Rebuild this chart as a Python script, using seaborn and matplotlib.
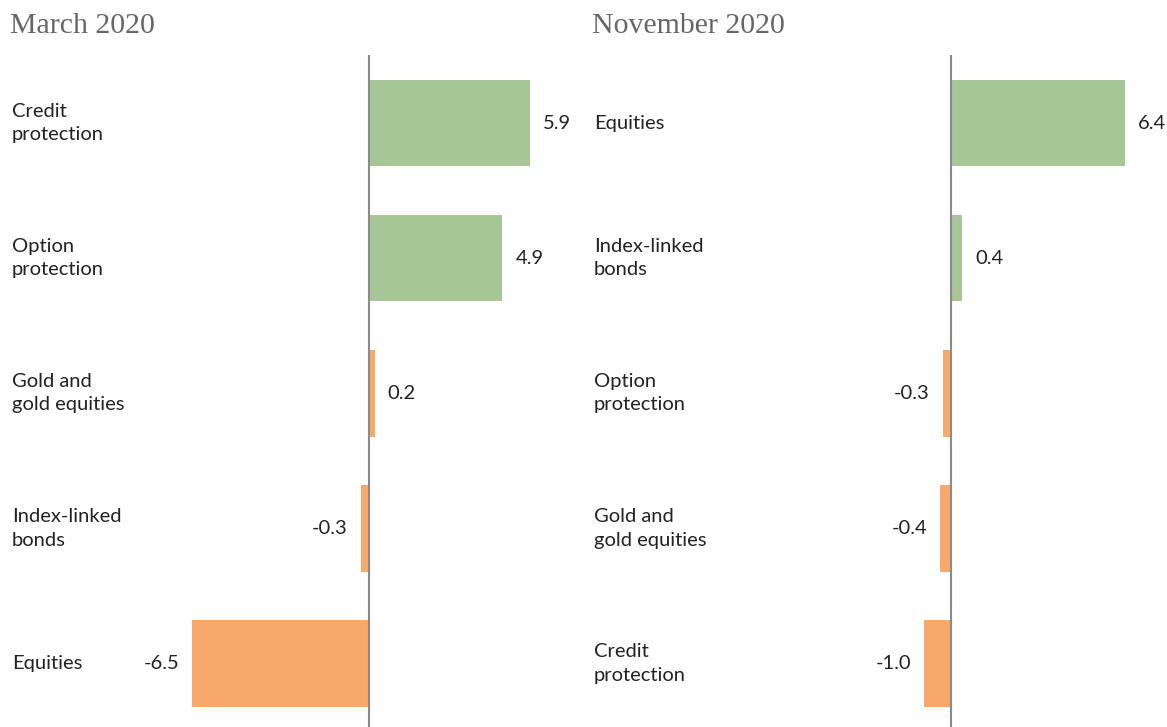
import matplotlib
matplotlib.use("Agg")
import matplotlib.pyplot as plt
import matplotlib.transforms as mtransforms
import seaborn as sns
import pandas as pd

# ---- data ----
march_categories = ["Credit\nprotection", "Option\nprotection", "Gold and\ngold equities",
                    "Index-linked\nbonds", "Equities"]
march_values = [5.9, 4.9, 0.2, -0.3, -6.5]
march_colors = ["#a6c795", "#a6c795", "#f7a96b", "#f7a96b", "#f7a96b"]

nov_categories = ["Equities", "Index-linked\nbonds", "Option\nprotection",
                  "Gold and\ngold equities", "Credit\nprotection"]
nov_values = [6.4, 0.4, -0.3, -0.4, -1.0]
nov_colors = ["#a6c795", "#a6c795", "#f7a96b", "#f7a96b", "#f7a96b"]

titles = ["March 2020", "November 2020"]

sns.set_style("white")
plt.rcParams["font.family"] = ["Lato", "DejaVu Sans"]

W, H = 1167, 727
fig = plt.figure(figsize=(W / 100, H / 100), dpi=100)

panels = [
    (10, titles[0], march_categories, march_values, march_colors),
    (592, titles[1], nov_categories, nov_values, nov_colors),
]

for left_px, title, cats, vals, cols in panels:
    ax = fig.add_axes([left_px / W, 0, 570 / W, (H - 55) / H])
    df = pd.DataFrame({"category": cats, "value": vals})
    sns.barplot(data=df, x="value", y="category", hue="category",
                palette=dict(zip(cats, cols)), orient="h", width=0.64,
                legend=False, ax=ax, saturation=1, linewidth=0)
    ax.set_xlim(-13.2, 7.75)
    ax.set_ylim(4.47, -0.504)
    ax.axvline(0, color="#8a8a8a", lw=1.5, zorder=3)
    for s in ax.spines.values():
        s.set_visible(False)
    ax.set_xticks([])
    ax.set_yticks([])
    ax.set_xlabel("")
    ax.set_ylabel("")
    trans = mtransforms.blended_transform_factory(ax.transAxes, ax.transData)
    for i, (c, v) in enumerate(zip(cats, vals)):
        ax.text(2 / 570, i, c, transform=trans, ha="left", va="center",
                fontsize=14.5, color="#222222", linespacing=1.45)
        off = mtransforms.offset_copy(ax.transData, fig=fig,
                                      x=(13 if v >= 0 else -13) * 0.72, y=0,
                                      units="points")
        ax.text(v, i, f"{v:.1f}", transform=off,
                ha="left" if v >= 0 else "right", va="center",
                fontsize=14.5, color="#222222")
    fig.text(left_px / W, 1 - 33 / H, title, fontsize=21.5,
             family=["Liberation Serif", "DejaVu Serif"], color="#666666",
             ha="left", va="baseline")

fig.savefig("out.png", dpi=100)
